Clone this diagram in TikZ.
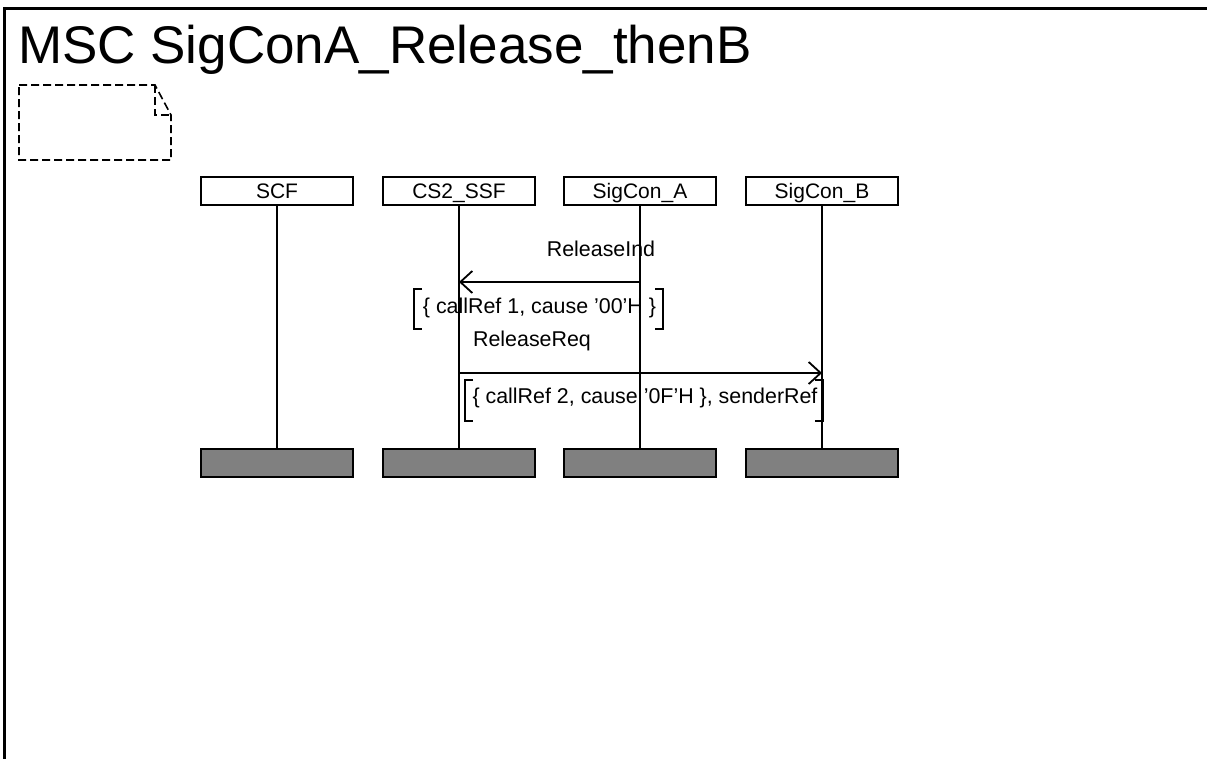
\documentclass[tikz,border=0pt]{standalone}
\usepackage{fontspec}
\setmainfont{Liberation Sans}
\usetikzlibrary{arrows.meta}
\definecolor{endgray}{RGB}{128,128,128}
\begin{document}
\begin{tikzpicture}[x=1pt,y=-1pt,
  inst/.style={draw, line width=1.8pt, minimum width=152pt, minimum height=28pt, inner sep=0pt,
    font=\fontsize{21}{24}\selectfont, text height=15pt, text depth=0pt},
  instend/.style={draw, line width=1.8pt, fill=endgray, minimum width=152pt, minimum height=28pt, inner sep=0pt},
  life/.style={line width=1.8pt},
  msg/.style={line width=1.8pt, -{Straight Barb[length=12pt,width=22pt]}},
  lbl/.style={font=\fontsize{21.4}{24}\selectfont, inner sep=0pt, anchor=base},
  brk/.style={line width=1.8pt},
  notestyle/.style={line width=1.6pt, dash pattern=on 8pt off 4pt},
]
\useasboundingbox (0,0) rectangle (1207,758);
\fill[white] (0,0) rectangle (1207,758);
% frame
\draw[line width=2.2pt] (4.5,760) -- (4.5,8.5) -- (1210,8.5);
% title
\node[anchor=base west, inner sep=0pt, font=\fontsize{53}{60}\selectfont] (title) at (18,63) {MSC SigConA\_Release\_thenB};
% comment note
\draw[notestyle] (19,85) -- (155,85) -- (171,115) -- (171,160) -- (19,160) -- cycle;
\draw[notestyle] (155,85) -- (155,115) -- (171,115);
% instance heads
\node[inst] (scf) at (277,191) {SCF};
\node[inst] (ssf) at (459,191) {CS2\_SSF};
\node[inst] (sigA) at (640,191) {SigCon\_A};
\node[inst] (sigB) at (822,191) {SigCon\_B};
% instance ends
\node[instend] (scfE) at (277,463) {};
\node[instend] (ssfE) at (459,463) {};
\node[instend] (sigAE) at (640,463) {};
\node[instend] (sigBE) at (822,463) {};
% lifelines
\draw[life] (scf) -- (scfE);
\draw[life] (ssf) -- (ssfE);
\draw[life] (sigA) -- (sigAE);
\draw[life] (sigB) -- (sigBE);
% message 1
\coordinate (m1) at (0,282);
\draw[msg] (sigA |- m1) -- (ssf |- m1);
\node[lbl] (m1lbl) at (601,256) {ReleaseInd};
\node[lbl] (m1par) at (539.5,313) {\{ callRef 1, cause ’00’H \}};
\draw[brk] (422,289) -- (414,289) -- (414,329) -- (422,329);
\draw[brk] (655,289) -- (663,289) -- (663,329) -- (655,329);
% message 2
\coordinate (m2) at (0,373);
\draw[msg] (ssf |- m2) -- (sigB |- m2);
\node[lbl] (m2lbl) at (532,346) {ReleaseReq};
\node[lbl] (m2par) at (645,403) {\{ callRef 2, cause ’0F’H \}, senderRef};
\draw[brk] (473,380) -- (465,380) -- (465,421) -- (473,421);
\draw[brk] (815,380) -- (823,380) -- (823,421) -- (815,421);
\end{tikzpicture}
\end{document}
